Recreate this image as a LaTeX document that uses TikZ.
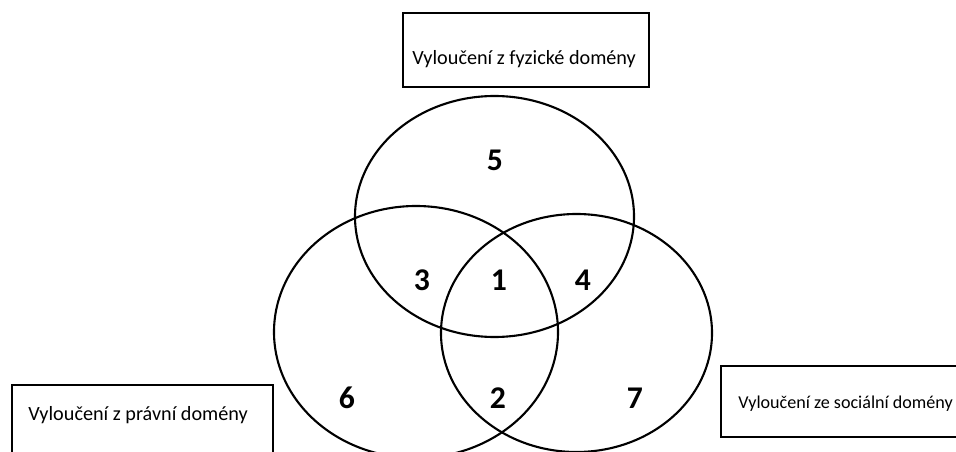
\documentclass[tikz,border=0pt]{standalone}
\usepackage{fontspec}
\setmainfont{Carlito}
\begin{document}
\begin{tikzpicture}
    [x=0.02cm,y=-0.02cm,
     set/.style={line width=1.2pt},
     box/.style={line width=1.2pt},
     label/.style={inner sep=0pt,anchor=base west,font=\fontsize{11.5}{13}\selectfont},
     num/.style={inner sep=0pt,font=\fontsize{18}{20}\selectfont\bfseries}]
    \useasboundingbox (0,0) rectangle (956,452);
    \clip (0,0) rectangle (956,452);

    \draw[set] (494.5,216.5) ellipse [x radius=139.5, y radius=120.5];
    \draw[set] (416,332) ellipse [x radius=142, y radius=126];
    \draw[set] (576.5,333) ellipse [x radius=135.5, y radius=119];

    \draw[box] (403,13) rectangle (649,87);
    \draw[box] (12,385) rectangle (273,470);
    \draw[box] (721,366) rectangle (970,437);

    \node[label] (fyz) at (412,65) {Vyloučení z fyzické domény};
    \node[label] (prav) at (28,420) {Vyloučení z právní domény};
    \node[label,font=\fontsize{10.3}{12}\selectfont] (soc) at (738,408) {Vyloučení ze sociální domény};

    \node[num] (n5) at (495,160) {5};
    \node[num] (n3) at (422,280) {3};
    \node[num] (n1) at (499,280) {1};
    \node[num] (n4) at (583,280) {4};
    \node[num] (n6) at (347,398) {6};
    \node[num] (n2) at (498,398) {2};
    \node[num] (n7) at (635,398) {7};
  \end{tikzpicture}
\end{document}
